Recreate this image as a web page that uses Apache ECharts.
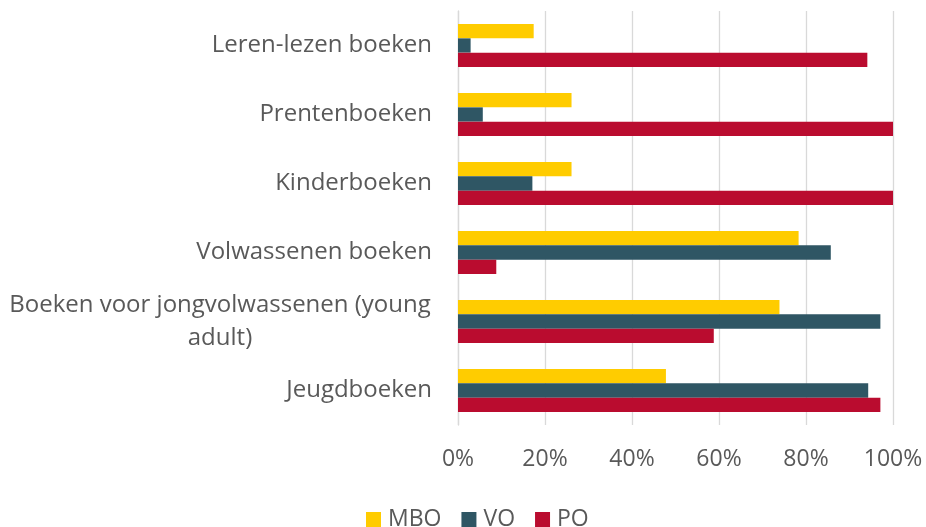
<!DOCTYPE html>
<html>
<head>
<meta charset="utf-8">
<script src="https://cdn.jsdelivr.net/npm/echarts@6/dist/echarts.min.js"></script>
<style>html,body{margin:0;padding:0;background:#fff}#c{width:926px;height:527px}</style>
</head>
<body>
<div id="c"></div>
<script>
const categories = ['Leren-lezen boeken', 'Prentenboeken', 'Kinderboeken', 'Volwassenen boeken', 'Boeken voor jongvolwassenen (young adult)', 'Jeugdboeken'];
const seriesNames = ['MBO', 'VO', 'PO'];
const mbo = [17.4, 26.1, 26.1, 78.3, 73.9, 47.8];
const vo = [2.9, 5.7, 17.1, 85.7, 97.1, 94.3];
const po = [94.1, 100, 100, 8.8, 58.8, 97.1];
const xTicks = [0, 20, 40, 60, 80, 100];
const colors = ['#FFCC00', '#2F5664', '#BA0C2F'];

const chart = echarts.init(document.getElementById('c'), null, {renderer: 'canvas'});
const font = '"Open Sans", sans-serif';
const values = [mbo, vo, po];
chart.setOption({
  animation: false,
  color: colors,
  grid: {left: 458, right: 33, top: 11, bottom: 102, containLabel: false},
  legend: {
    left: 361, top: 503,
    itemWidth: 15, itemHeight: 15, itemGap: 20,
    icon: 'rect',
    textStyle: {fontFamily: font, fontSize: 23, color: '#595959', padding: [0, 0, 0, 2]},
    data: seriesNames
  },
  xAxis: {
    type: 'value', min: 0, max: 100, interval: 20,
    axisLine: {show: false}, axisTick: {show: false},
    splitLine: {lineStyle: {color: '#D9D9D9', width: 1.3}},
    axisLabel: {
      fontFamily: font, fontSize: 23, color: '#595959', margin: 23,
      formatter: v => xTicks.includes(v) ? v + '%' : ''
    }
  },
  yAxis: {
    type: 'category', inverse: true, data: categories,
    axisLine: {show: true, lineStyle: {color: '#D9D9D9', width: 1.3}},
    axisTick: {show: false},
    axisLabel: {
      fontFamily: font, fontSize: 24, color: '#595959', margin: 26,
      formatter: function (v) {
        if (v.indexOf('(young adult)') >= 0) {
          return '{c|Boeken voor jongvolwassenen (young}\n{c|adult)}';
        }
        return v;
      },
      rich: {c: {fontFamily: font, fontSize: 24, color: '#595959', width: 424, align: 'center', lineHeight: 33}}
    }
  },
  series: seriesNames.map((n, i) => ({
    name: n, type: 'bar', data: values[i],
    barGap: '0%', barCategoryGap: '38%',
    itemStyle: {color: colors[i]}
  }))
});
</script>
</body>
</html>
